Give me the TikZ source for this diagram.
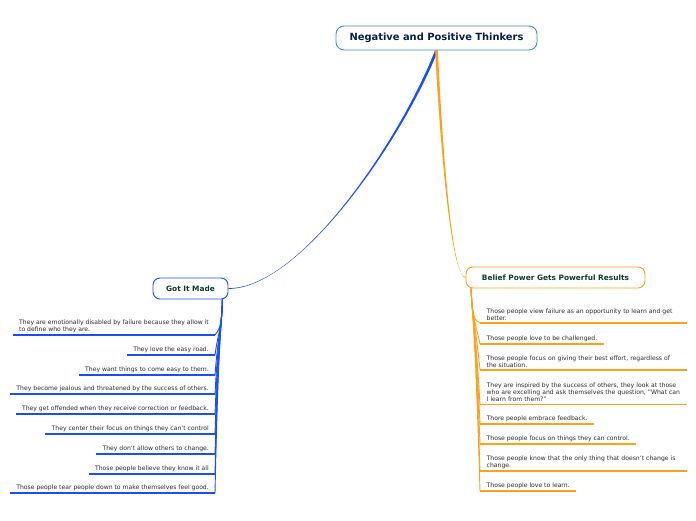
\documentclass[tikz,border=0pt]{standalone}
\usepackage{fontspec}
\setmainfont{DejaVu Sans}
\definecolor{cblue}{HTML}{1A50F0}
\definecolor{corange}{HTML}{FFA01A}
\definecolor{rootborder}{HTML}{3C90D8}
\definecolor{navy}{HTML}{0A1E4E}
\definecolor{dgreen}{HTML}{0E3B2C}
\definecolor{leaftext}{HTML}{2A2A2A}
\begin{document}
\begin{tikzpicture}[x=1pt,y=-1pt,
  rootbox/.style={draw=rootborder,line width=0.9pt,rounded corners=8pt,fill=white,minimum width=201pt,minimum height=24pt,font=\fontsize{9.9}{11}\selectfont\bfseries,text=navy},
  subbox/.style={draw=#1,line width=0.9pt,rounded corners=7pt,fill=white,minimum height=21pt,inner xsep=6pt,font=\fontsize{7.4}{9}\selectfont\bfseries,text=dgreen},
  leaf/.style={font=\fontsize{6.1}{7}\selectfont,text=leaftext,align=left,inner ysep=2.5pt},
  lleaf/.style={leaf,anchor=south east,inner xsep=6pt},
  rleaf/.style={leaf,anchor=south west,inner xsep=6.5pt},
  bul/.style={draw=cblue,line width=1.3pt},
  oul/.style={draw=corange,line width=1.3pt},
  bcon/.style={draw=cblue,line width=0.9pt},
  ocon/.style={draw=corange,line width=0.9pt}]
\useasboundingbox (0,0) rectangle (696,520);

\node[rootbox] (root) at (436.5,38) {Negative and Positive Thinkers};
\node[subbox=cblue,minimum width=75pt] (got) at (190.5,288.5) {Got It Made};
\node[subbox=corange,minimum width=179pt] (bel) at (555.5,277.5) {Belief Power Gets Powerful Results};

% main connectors (tapered)
\fill[cblue] (root.south) ++(-1.5,0) .. controls (400,140) and (300,289) .. ([yshift=0.4pt]got.east)
  -- ([yshift=-0.4pt]got.east) .. controls (300,288.6) and (402.5,140) .. ([xshift=1.5pt]root.south) -- cycle;
\fill[corange] (root.south) ++(-1.4,0) .. controls (441,160) and (452,278) .. ([yshift=0.4pt]bel.west)
  -- ([yshift=-0.4pt]bel.west) .. controls (452.5,277.6) and (443,160) .. ([xshift=1.4pt]root.south) -- cycle;

% left leaves
\node[lleaf] (l1) at (215,335) {They are emotionally disabled by failure because they allow it\\to define who they are.};
\node[lleaf] (l2) at (215,355) {They love the easy road.};
\node[lleaf] (l3) at (215,375) {They want things to come easy to them.};
\node[lleaf] (l4) at (215,394) {They become jealous and threatened by the success of others.};
\node[lleaf] (l5) at (215,414) {They get offended when they receive correction or feedback.};
\node[lleaf] (l6) at (215,434) {They center their focus on things they can't control};
\node[lleaf] (l7) at (215,454) {They don't allow others to change.};
\node[lleaf] (l8) at (215,474) {Those people believe they know it all};
\node[lleaf] (l9) at (215,493) {Those people tear people down to make themselves feel good.};
\foreach \n in {l1,l2,l3,l4,l5,l6,l7,l8,l9}{
  \draw[bul] (\n.south west) -- (\n.south east);
}
\coordinate (gb) at (222.5,299);
\foreach \n in {l1,l2,l3,l4,l5,l6,l7,l8,l9}{
  \draw[bcon] (gb) .. controls (221.5,330) and (218.5,330) .. (\n.south east);
}

% right leaves
\node[rleaf,text width=194pt] (r1) at (480,323) {Those people view failure as an opportunity to learn and get\\better.};
\node[rleaf] (r2) at (480,344) {Those people love to be challenged.};
\node[rleaf,text width=194pt] (r3) at (480,370) {Those people focus on giving their best effort, regardless of\\the situation.};
\node[rleaf,text width=194pt] (r4) at (480,404.5) {They are inspired by the success of others, they look at those\\who are excelling and ask themselves the question, "What can\\I learn from them?"};
\node[rleaf] (r5) at (480,424) {Thore people embrace feedback.};
\node[rleaf] (r6) at (480,444) {Those people focus on things they can control.};
\node[rleaf,text width=194pt] (r7) at (480,471) {Those people know that the only thing that doesn't change is\\change.};
\node[rleaf] (r8) at (480,491) {Those people love to learn.};
\foreach \n in {r1,r2,r3,r4,r5,r6,r7,r8}{
  \draw[oul] (\n.south west) -- (\n.south east);
}
\coordinate (bb) at (471,288.5);
\foreach \n in {r1,r2,r3,r4,r5,r6,r7,r8}{
  \draw[ocon] (bb) .. controls (472.5,320) and (475,320) .. (\n.south west);
}
\end{tikzpicture}
\end{document}
